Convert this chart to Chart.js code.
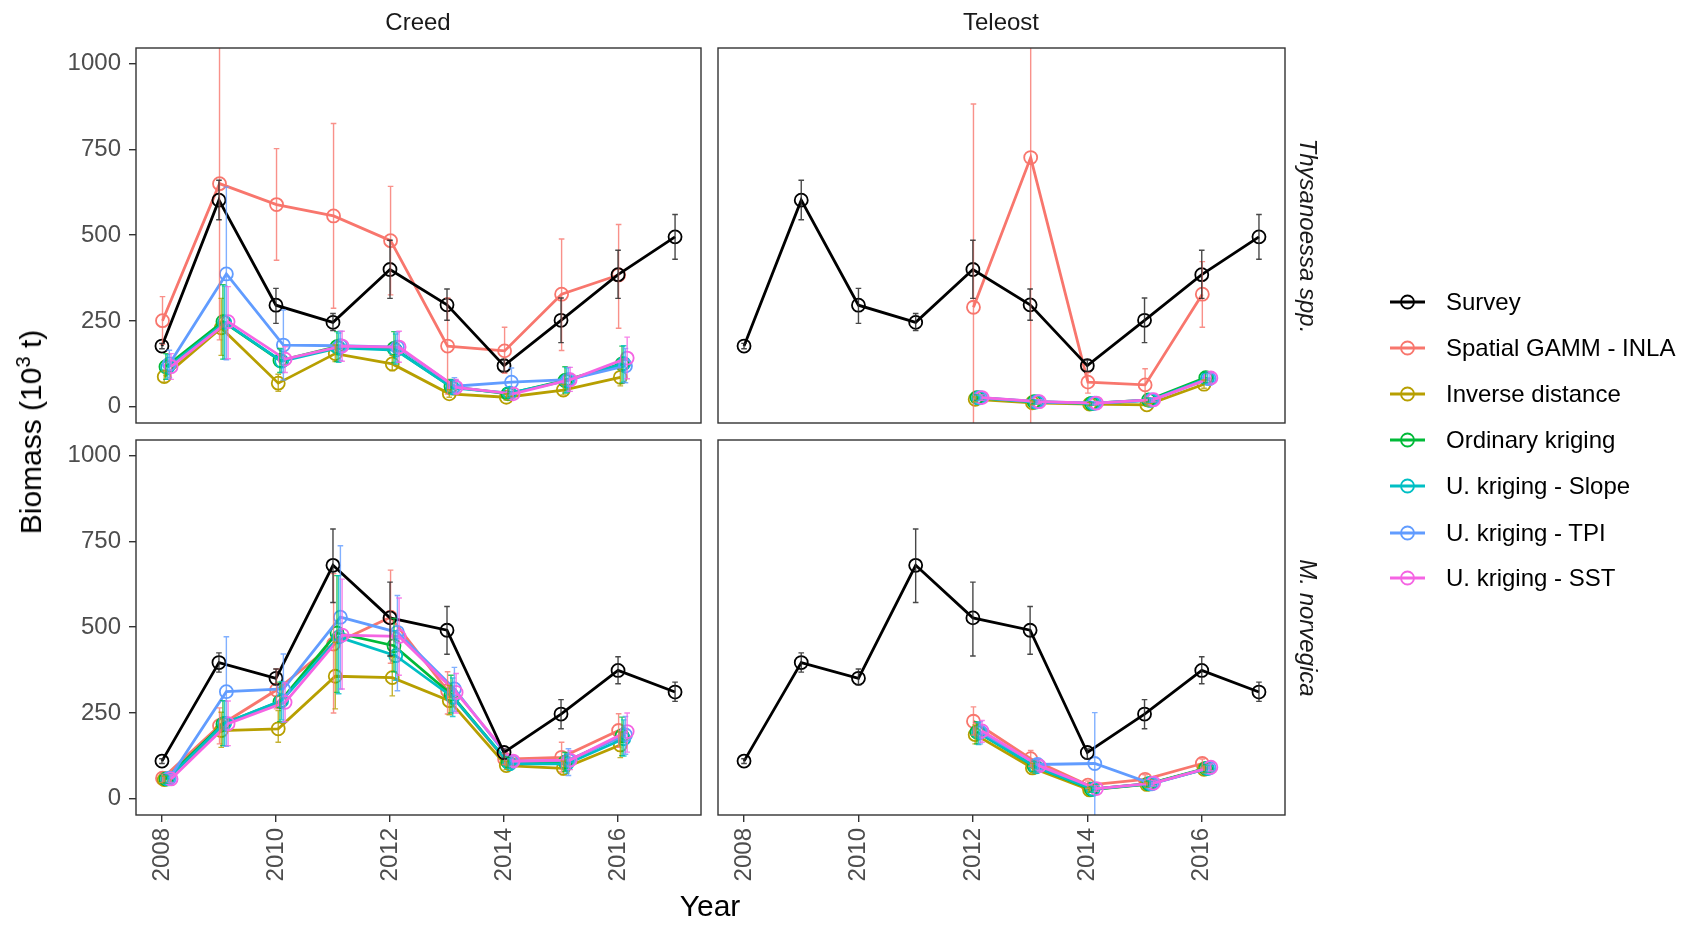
<!DOCTYPE html>
<html>
<head>
<meta charset="utf-8">
<script src="https://cdn.jsdelivr.net/npm/chart.js@4.4.0/dist/chart.umd.min.js"></script>
<style>
body { margin: 0; background: #fff; }
#wrap { position: relative; width: 1705px; height: 927px; overflow: hidden; font-family: "Liberation Sans", Arial, sans-serif; }
#wrap canvas { position: absolute; left: 0; top: 0; }
.lbl { position: absolute; white-space: nowrap; color: #1a1a1a; font-size: 24px; transform: translate(-50%, -50%); }
.leg { position: absolute; left: 1388px; width: 320px; height: 46px; }
.leg span { position: absolute; left: 58px; top: 50%; transform: translateY(-50%); font-size: 24px; color: #000; white-space: nowrap; }
.leg svg { position: absolute; left: 0; top: 0; }
</style>
</head>
<body>
<div id="wrap">
  <canvas id="p0" width="1705" height="927"></canvas>
  <canvas id="p1" width="1705" height="927"></canvas>
  <canvas id="p2" width="1705" height="927"></canvas>
  <canvas id="p3" width="1705" height="927"></canvas>

  <div class="lbl" style="left:418px; top:22px;">Creed</div>
  <div class="lbl" style="left:1001px; top:22px;">Teleost</div>
  <div class="lbl" style="left:1308px; top:236px; transform: translate(-50%, -50%) rotate(90deg); font-style: italic;">Thysanoessa spp.</div>
  <div class="lbl" style="left:1308px; top:628px; transform: translate(-50%, -50%) rotate(90deg); font-style: italic;">M. norvegica</div>
  <div class="lbl" style="left:30px; top:432px; transform: translate(-50%, -50%) rotate(-90deg); font-size: 30px; color: #000;">Biomass (10<sup style="font-size:20px">3</sup> t)</div>
  <div class="lbl" style="left:710px; top:906px; font-size: 30px; color: #000;">Year</div>
  <div id="legend"></div>
</div>

<script>
var years = [2008, 2009, 2010, 2011, 2012, 2013, 2014, 2015, 2016, 2017];
var xTicks = [2008, 2010, 2012, 2014, 2016];
var yTicks = [0, 250, 500, 750, 1000];

var seriesNames = ["Survey", "Spatial GAMM - INLA", "Inverse distance", "Ordinary kriging",
    "U. kriging - Slope", "U. kriging - TPI", "U. kriging - SST"];
var seriesColors = ["#000000", "#F8766D", "#B79F00", "#00BA38", "#00BFC4", "#619CFF", "#F564E3"];

// Creed, Thysanoessa spp.
var creedThys = [
    [177, 602, 296, 246, 400, 297, 120, 252, 385, 495],
    [251, 650, 589, 556, 484, 177, 163, 328, 384, null],
    [88, 230, 69, 155, 125, 38, 28, 49, 86, null],
    [117, 248, 135, 175, 170, 59, 38, 77, 125, null],
    [115, 246, 133, 172, 165, 55, 40, 76, 126, null],
    [125, 387, 180, 178, 174, 60, 72, 79, 119, null],
    [117, 248, 139, 177, 174, 57, 38, 79, 142, null]
];
var creedThysLo = [
    [169, 545, 243, 222, 316, 252, 104, 187, 316, 430],
    [182, 195, 427, 287, 326, 37, 98, 164, 229, null],
    [72, 150, 45, 132, 105, 28, 20, 35, 61, null],
    [80, 139, 100, 132, 129, 40, 25, 40, 69, null],
    [80, 139, 100, 130, 125, 38, 27, 42, 72, null],
    [85, 137, 78, 135, 130, 40, 35, 45, 70, null],
    [80, 140, 100, 133, 130, 38, 25, 45, 82, null]
];
var creedThysHi = [
    [185, 660, 345, 272, 485, 343, 136, 317, 456, 560],
    [321, 1200, 752, 825, 642, 317, 232, 489, 531, null],
    [104, 316, 95, 180, 150, 50, 38, 65, 110, null],
    [155, 356, 170, 219, 219, 80, 55, 117, 177, null],
    [152, 352, 168, 215, 212, 78, 56, 114, 178, null],
    [165, 640, 282, 220, 218, 85, 113, 115, 170, null],
    [155, 350, 175, 220, 220, 80, 55, 115, 203, null]
];

// Teleost, Thysanoessa spp.
var teleThys = [
    [177, 602, 296, 246, 400, 297, 120, 252, 385, 495],
    [null, null, null, null, 290, 726, 72, 64, 328, null],
    [null, null, null, null, 22, 12, 8, 6, 66, null],
    [null, null, null, null, 27, 15, 10, 20, 85, null],
    [null, null, null, null, 26, 14, 10, 19, 83, null],
    [null, null, null, null, 27, 15, 11, 20, 82, null],
    [null, null, null, null, 27, 15, 11, 21, 84, null]
];
var teleThysLo = [
    [169, 545, 243, 222, 316, 252, 104, 187, 316, 430],
    [null, null, null, null, -400, -400, 40, 15, 232, null],
    [null, null, null, null, 15, 6, 3, 2, 54, null],
    [null, null, null, null, 19, 9, 5, 14, 70, null],
    [null, null, null, null, 18, 8, 5, 13, 68, null],
    [null, null, null, null, 19, 9, 6, 14, 67, null],
    [null, null, null, null, 19, 9, 6, 15, 69, null]
];
var teleThysHi = [
    [185, 660, 345, 272, 485, 343, 136, 317, 456, 560],
    [null, null, null, null, 882, 1400, 100, 111, 423, null],
    [null, null, null, null, 29, 18, 13, 10, 78, null],
    [null, null, null, null, 35, 21, 15, 26, 100, null],
    [null, null, null, null, 34, 20, 15, 25, 98, null],
    [null, null, null, null, 35, 21, 16, 26, 97, null],
    [null, null, null, null, 35, 21, 16, 27, 99, null]
];

// Creed, M. norvegica
var creedNorv = [
    [110, 397, 351, 680, 527, 491, 135, 247, 374, 311],
    [60, 213, 317, 451, 529, 315, 116, 121, 199, null],
    [56, 199, 204, 357, 353, 286, 97, 89, 157, null],
    [58, 218, 283, 483, 446, 305, 107, 107, 184, null],
    [58, 220, 286, 471, 417, 296, 102, 102, 175, null],
    [60, 312, 320, 529, 485, 320, 109, 112, 186, null],
    [58, 219, 281, 477, 473, 310, 110, 113, 196, null]
];
var creedNorvLo = [
    [103, 369, 332, 572, 416, 421, 117, 204, 335, 284],
    [48, 160, 262, 250, 395, 247, 100, 78, 150, null],
    [46, 150, 165, 262, 300, 245, 85, 70, 120, null],
    [46, 155, 225, 310, 370, 250, 92, 80, 126, null],
    [46, 155, 230, 306, 345, 240, 88, 75, 125, null],
    [48, 153, 223, 320, 315, 255, 94, 68, 130, null],
    [46, 155, 225, 320, 360, 250, 95, 85, 136, null]
];
var creedNorvHi = [
    [117, 425, 378, 786, 631, 560, 145, 289, 414, 340],
    [72, 265, 378, 656, 666, 370, 132, 165, 248, null],
    [66, 252, 257, 456, 413, 330, 110, 110, 195, null],
    [70, 286, 340, 650, 525, 360, 122, 135, 238, null],
    [70, 285, 342, 650, 490, 352, 118, 130, 230, null],
    [72, 472, 422, 737, 592, 383, 124, 146, 240, null],
    [70, 285, 338, 640, 585, 365, 125, 140, 250, null]
];

// Teleost, M. norvegica
var teleNorv = [
    [110, 397, 351, 680, 527, 491, 135, 247, 374, 311],
    [null, null, null, null, 226, 117, 40, 57, 103, null],
    [null, null, null, null, 187, 90, 26, 42, 86, null],
    [null, null, null, null, 195, 95, 28, 44, 89, null],
    [null, null, null, null, 193, 93, 28, 44, 88, null],
    [null, null, null, null, 195, 100, 103, 44, 90, null],
    [null, null, null, null, 198, 96, 30, 46, 92, null]
];
var teleNorvLo = [
    [103, 369, 332, 572, 416, 421, 117, 204, 335, 284],
    [null, null, null, null, 186, 95, 30, 45, 90, null],
    [null, null, null, null, 160, 76, 19, 34, 76, null],
    [null, null, null, null, 160, 80, 20, 36, 79, null],
    [null, null, null, null, 158, 78, 20, 36, 78, null],
    [null, null, null, null, 160, 86, -100, 36, 80, null],
    [null, null, null, null, 165, 82, 22, 38, 82, null]
];
var teleNorvHi = [
    [117, 425, 378, 786, 631, 560, 145, 289, 414, 340],
    [null, null, null, null, 268, 141, 52, 70, 116, null],
    [null, null, null, null, 215, 104, 33, 50, 96, null],
    [null, null, null, null, 225, 110, 36, 52, 100, null],
    [null, null, null, null, 222, 108, 36, 52, 98, null],
    [null, null, null, null, 225, 114, 251, 52, 100, null],
    [null, null, null, null, 228, 110, 38, 54, 102, null]
];

// small horizontal dodge of the model series
var dodge = [0, 0.01, 0.04, 0.07, 0.10, 0.13, 0.16];

var FONT = '"Liberation Sans", Arial, sans-serif';
var Y_AXIS_W = 100;   // room for the y tick labels
var X_AXIS_H = 80;    // room for the rotated year labels

function fade(hex, a) {
    var r = parseInt(hex.substr(1, 2), 16), g = parseInt(hex.substr(3, 2), 16), b = parseInt(hex.substr(5, 2), 16);
    return 'rgba(' + r + ',' + g + ',' + b + ',' + a + ')';
}

var errorBars = {
    id: 'errorBars',
    afterDatasetsDraw: function (chart) {
        var ctx = chart.ctx, a = chart.chartArea;
        var xs = chart.scales.x, ys = chart.scales.y;
        ctx.save();
        ctx.beginPath();
        ctx.rect(a.left, a.top, a.right - a.left, a.bottom - a.top);
        ctx.clip();
        var sets = chart.data.datasets.slice().sort(function (p, q) { return q.order - p.order; });
        sets.forEach(function (ds) {
            ctx.strokeStyle = ds.errColor;
            ctx.lineWidth = 1.4;
            ds.data.forEach(function (pt, i) {
                var lo = ds.errLo[i], hi = ds.errHi[i];
                if (lo == null || hi == null) return;
                var px = xs.getPixelForValue(pt.x);
                var y0 = ys.getPixelForValue(lo), y1 = ys.getPixelForValue(hi);
                ctx.beginPath();
                ctx.moveTo(px, y0); ctx.lineTo(px, y1);
                ctx.moveTo(px - 2.8, y0); ctx.lineTo(px + 2.8, y0);
                ctx.moveTo(px - 2.8, y1); ctx.lineTo(px + 2.8, y1);
                ctx.stroke();
            });
        });
        ctx.restore();
        // panel frame
        ctx.save();
        ctx.strokeStyle = '#333333';
        ctx.lineWidth = 1.4;
        ctx.strokeRect(a.left, a.top, a.right - a.left, a.bottom - a.top);
        ctx.restore();
    }
};

function buildDatasets(vals, lo, hi) {
    return vals.map(function (row, s) {
        var pts = [], l = [], h = [];
        row.forEach(function (v, i) {
            if (v == null) return;
            pts.push({ x: years[i] + dodge[s], y: v });
            l.push(lo[s][i]);
            h.push(hi[s][i]);
        });
        return {
            label: seriesNames[s],
            data: pts,
            errLo: l,
            errHi: h,
            errColor: s === 0 ? 'rgba(40,40,40,0.85)' : fade(seriesColors[s], 0.8),
            borderColor: seriesColors[s],
            backgroundColor: 'rgba(0,0,0,0)',
            borderWidth: 2.8,
            pointRadius: 6.5,
            pointBorderWidth: 1.8,
            pointBorderColor: seriesColors[s],
            pointBackgroundColor: 'rgba(0,0,0,0)',
            pointHoverRadius: 6.5,
            tension: 0,
            order: s === 0 ? 0 : 7 - s
        };
    });
}

function makePanel(id, box, vals, lo, hi, showX, showY) {
    var xh = showX ? X_AXIS_H : 0;
    var yw = showY ? Y_AXIS_W : 0;
    var pad = { left: box[0] - yw, top: box[1], right: 1705 - box[2], bottom: 927 - box[3] - xh };
    new Chart(document.getElementById(id), {
        type: 'line',
        data: { datasets: buildDatasets(vals, lo, hi) },
        plugins: [errorBars],
        options: {
            responsive: false,
            animation: false,
            events: [],
            layout: { padding: pad },
            plugins: { legend: { display: false }, tooltip: { enabled: false } },
            scales: {
                x: {
                    type: 'linear',
                    min: 2007.545,
                    max: 2017.455,
                    display: showX,
                    afterBuildTicks: function (sc) { sc.ticks = xTicks.map(function (v) { return { value: v }; }); },
                    afterFit: function (sc) { sc.height = xh; },
                    grid: { drawOnChartArea: false, drawTicks: true, tickLength: 7, color: '#333333', lineWidth: 1.4 },
                    border: { display: false },
                    ticks: {
                        autoSkip: false, minRotation: 90, maxRotation: 90, padding: 6,
                        color: '#4d4d4d', font: { family: FONT, size: 24 },
                        callback: function (v) { return String(v); }
                    }
                },
                y: {
                    type: 'linear',
                    min: -47,
                    max: 1045,
                    display: showY,
                    afterBuildTicks: function (sc) { sc.ticks = yTicks.map(function (v) { return { value: v }; }); },
                    afterFit: function (sc) { sc.width = yw; },
                    grid: { drawOnChartArea: false, drawTicks: true, tickLength: 7, color: '#333333', lineWidth: 1.4 },
                    border: { display: false },
                    ticks: {
                        padding: 8, color: '#4d4d4d', font: { family: FONT, size: 24 },
                        callback: function (v) { return String(v); }
                    }
                }
            }
        }
    });
}

makePanel('p0', [136, 48, 701, 423], creedThys, creedThysLo, creedThysHi, false, true);
makePanel('p1', [718, 48, 1285, 423], teleThys, teleThysLo, teleThysHi, false, false);
makePanel('p2', [136, 440, 701, 815], creedNorv, creedNorvLo, creedNorvHi, true, true);
makePanel('p3', [718, 440, 1285, 815], teleNorv, teleNorvLo, teleNorvHi, true, false);

// legend
var legendRows = [302, 348, 394, 440, 486, 533, 578];
var legHtml = '';
seriesNames.forEach(function (name, s) {
    var c = seriesColors[s];
    legHtml += '<div class="leg" style="top:' + (legendRows[s] - 23) + 'px">' +
        '<svg width="40" height="46"><line x1="2" y1="23" x2="37" y2="23" stroke="' + c + '" stroke-width="2.8"/>' +
        '<circle cx="19.5" cy="23" r="6.5" fill="none" stroke="' + c + '" stroke-width="1.8"/></svg>' +
        '<span>' + name + '</span></div>';
});
document.getElementById('legend').innerHTML = legHtml;
</script>
</body>
</html>
